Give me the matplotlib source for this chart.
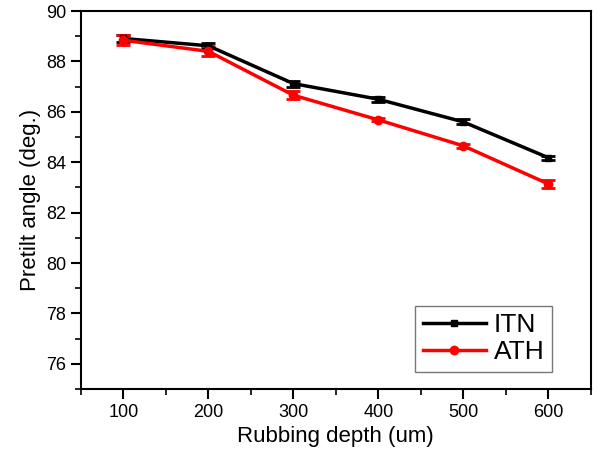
import matplotlib
matplotlib.use("Agg")
import matplotlib.pyplot as plt
from matplotlib.ticker import MultipleLocator

plt.rcParams['font.family'] = ['Liberation Sans', 'DejaVu Sans']

depth = [100, 200, 300, 400, 500, 600]
itn = [88.91, 88.62, 87.12, 86.50, 85.60, 84.18]
itn_err = [0.12, 0.1, 0.12, 0.1, 0.1, 0.08]
ath = [88.84, 88.40, 86.66, 85.68, 84.65, 83.14]
ath_err = [0.2, 0.2, 0.15, 0.06, 0.08, 0.15]

fig = plt.figure(figsize=(6.04, 4.59), dpi=100)
ax = fig.add_axes([0.134, 0.1525, 0.844, 0.8235])

ax.errorbar(depth, itn, yerr=itn_err, color='black', fmt='none',
            elinewidth=1.5, capsize=5, capthick=2)
ax.errorbar(depth, ath, yerr=ath_err, color='red', fmt='none',
            elinewidth=1.5, capsize=5, capthick=2)
ax.plot(depth, itn, color='black', marker='s', markersize=5, linewidth=2.5, label='ITN')
ax.plot(depth, ath, color='red', marker='o', markersize=6, linewidth=2.5, label='ATH')

ax.set_xlim(50, 650)
ax.set_ylim(75, 90)
ax.xaxis.set_major_locator(MultipleLocator(100))
ax.xaxis.set_minor_locator(MultipleLocator(50))
ax.yaxis.set_major_locator(MultipleLocator(2))
ax.yaxis.set_minor_locator(MultipleLocator(1))
ax.tick_params(which='major', direction='out', length=7, width=1.5, labelsize=13,
               top=False, right=False)
ax.tick_params(which='minor', direction='out', length=4, width=1.2,
               top=False, right=False)
for s in ax.spines.values():
    s.set_linewidth(1.5)

ax.set_xlabel('Rubbing depth (um)', fontsize=16)
ax.set_ylabel('Pretilt angle (deg.)', fontsize=16)

leg = ax.legend(loc='lower right', bbox_to_anchor=(0.925, 0.045), fontsize=19,
                handlelength=2.4, frameon=True, fancybox=False, edgecolor='#555555',
                borderaxespad=0.0, handletextpad=0.3, labelspacing=0.1, borderpad=0.3)
leg.get_frame().set_linewidth(1.0)

fig.savefig('out.png', dpi=100)
